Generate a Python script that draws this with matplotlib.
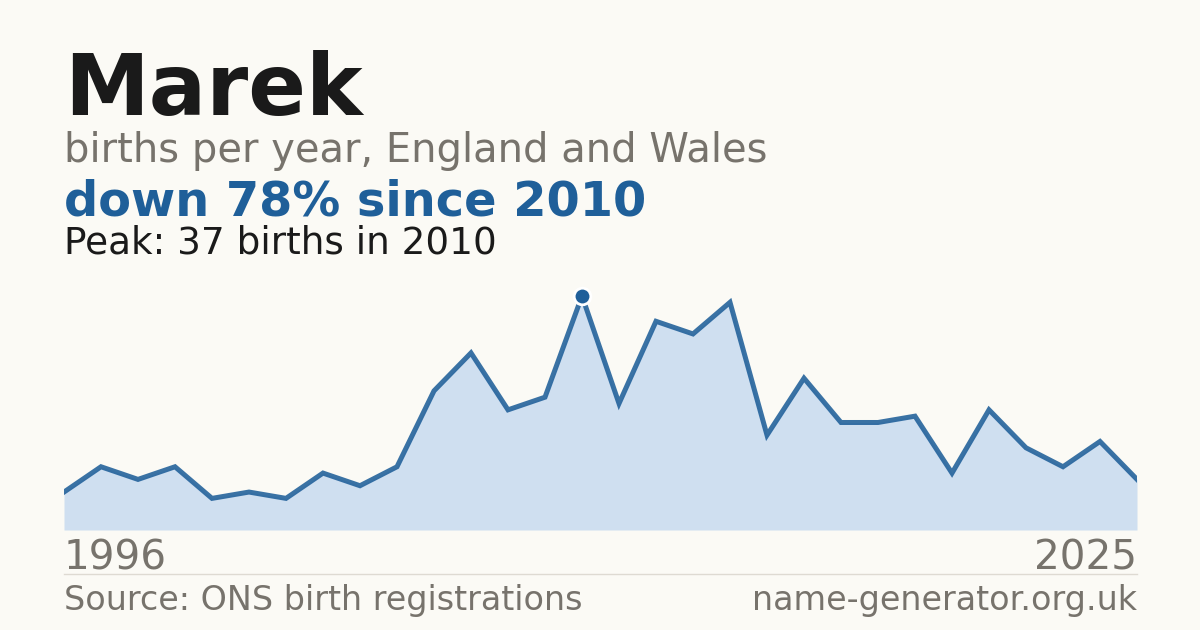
import os
import matplotlib
matplotlib.use("Agg")
import matplotlib.pyplot as plt
from matplotlib.lines import Line2D
from matplotlib.font_manager import FontProperties

years = list(range(1996, 2026))
births = [6, 10, 8, 10, 5, 6, 5, 9, 7, 10, 22, 28, 19, 21, 37, 20, 33, 31, 36, 15,
          24, 17, 17, 18, 9, 19, 13, 10, 14, 8]

title = "Marek"
subtitle = "births per year, England and Wales"
headline = "down 78% since 2010"
peak_text = "Peak: 37 births in 2010"
source = "Source: ONS birth registrations"
site = "name-generator.org.uk"

BG = "#fbfaf5"
BLUE = "#1f5f99"
FILL = "#cfdff0"
GREY = "#77736c"
DARK = "#1a1a1a"

def fp(size, bold=False):
    return FontProperties(family="DejaVu Sans", size=size, weight="bold" if bold else "normal")

fig = plt.figure(figsize=(12, 6.3), dpi=100, facecolor=BG)

ax = fig.add_axes([64/1200, 100/630, (1137-64)/1200, 234/630])
ax.set_facecolor(BG)
ax.fill_between(years, births, 0, color=FILL, linewidth=0)
ax.plot(years, births, color=BLUE, linewidth=3.6, alpha=0.88, solid_joinstyle='miter')
pk = births.index(max(births))
ax.plot([years[pk]], [births[pk]], 'o', color=BLUE, markersize=12,
        markeredgecolor='white', markeredgewidth=2, clip_on=False, zorder=5)
ax.set_xlim(years[0], years[-1])
ax.set_ylim(0, max(births))
ax.axis('off')

fig.text(64/1200, 1-115/630, title, fontproperties=fp(61.3, True), color=DARK, va='baseline')
fig.text(64/1200, 1-162/630, subtitle, fontproperties=fp(28.8), color=GREY, va='baseline')
fig.text(64/1200, 1-215/630, headline, fontproperties=fp(34.5, True), color=BLUE, va='baseline')
fig.text(64/1200, 1-253/630, peak_text, fontproperties=fp(26.9), color=DARK, va='baseline')

fig.text(64/1200, 1-570/630, str(years[0]), fontproperties=fp(29.2), color=GREY, va='baseline', ha='left')
fig.text(1137/1200, 1-570/630, str(years[-1]), fontproperties=fp(29.2), color=GREY, va='baseline', ha='right')

fig.add_artist(Line2D([64/1200, 1137/1200], [1-574/630, 1-574/630], color='#dedad2', linewidth=1))

fig.text(64/1200, 1-610/630, source, fontproperties=fp(24), color=GREY, va='baseline', ha='left')
fig.text(1137/1200, 1-610/630, site, fontproperties=fp(24), color=GREY, va='baseline', ha='right')

fig.savefig("out.png", dpi=100, facecolor=BG)
